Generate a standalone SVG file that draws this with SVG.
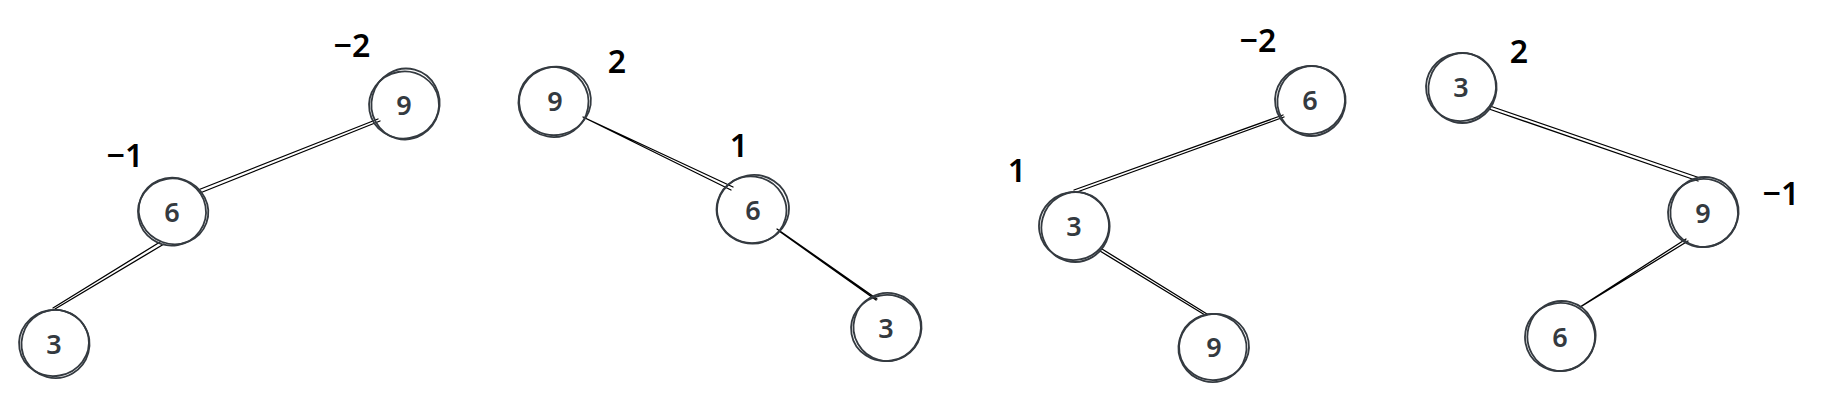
<svg xmlns="http://www.w3.org/2000/svg" width="1824" height="401" viewBox="0 0 1824 401">
<style>
.c{fill:none;stroke:#343a40;stroke-width:1.8;stroke-linecap:round}
.v{font-family:"Noto Sans","Open Sans",sans-serif;font-size:27px;font-weight:600;fill:#343a40;text-anchor:middle}
.b{font-family:"Noto Sans","Open Sans",sans-serif;font-size:32px;font-weight:600;fill:#000;text-anchor:middle}
.e{stroke:#000;stroke-width:1.3;fill:none;stroke-linecap:round}
</style>
<rect width="1824" height="401" fill="#fff"/>
<g id="edges">
<path class="e" d="M378 119 L198 190 M380 121 L200 193"/>
<path class="e" d="M160 242 L53 308 M164 244 L55 309"/>
<path class="e" d="M583 117 L733 187 M585 118 L731 190"/>
<path class="e" d="M777 229 L877 299 M779 231 L876 300"/>
<path class="e" d="M1283 115 L1074 190 M1284 117 L1077 192"/>
<path class="e" d="M1100 251 L1205 315 M1102 249 L1207 314"/>
<path class="e" d="M1490 106 L1700 178 M1489 109 L1698 181"/>
<path class="e" d="M1686 239 L1580 307 M1688 241 L1582 306"/>
</g>
<g id="p1-n9">
<ellipse class="c" cx="404" cy="105" rx="35" ry="33.5" transform="rotate(-10 404 105)"/>
<ellipse class="c" cx="405.5" cy="104" rx="34" ry="35.5" transform="rotate(15 405.5 104)"/>
<text class="v" x="404" y="115">9</text>
</g>
<g id="p1-n6">
<ellipse class="c" cx="172" cy="212" rx="34" ry="33.5" transform="rotate(-10 172 212)"/>
<ellipse class="c" cx="173.5" cy="211" rx="35" ry="33" transform="rotate(20 173.5 211)"/>
<text class="v" x="172" y="222">6</text>
</g>
<g id="p1-n3">
<ellipse class="c" cx="54" cy="343" rx="35" ry="33" transform="rotate(-10 54 343)"/>
<ellipse class="c" cx="55.5" cy="344" rx="34" ry="34" transform="rotate(15 55.5 344)"/>
<text class="v" x="54" y="354">3</text>
</g>
<g id="p2-n9">
<ellipse class="c" cx="555" cy="101" rx="36" ry="34" transform="rotate(-15 555 101)"/>
<ellipse class="c" cx="553.5" cy="102" rx="35" ry="35" transform="rotate(10 553.5 102)"/>
<text class="v" x="555" y="111">9</text>
</g>
<g id="p2-n6">
<ellipse class="c" cx="753" cy="209" rx="36" ry="34" transform="rotate(-10 753 209)"/>
<ellipse class="c" cx="751.5" cy="210" rx="35" ry="33.5" transform="rotate(15 751.5 210)"/>
<text class="v" x="753" y="220">6</text>
</g>
<g id="p2-n3">
<ellipse class="c" cx="886" cy="328" rx="35" ry="33" transform="rotate(-10 886 328)"/>
<ellipse class="c" cx="887.5" cy="327" rx="34" ry="34" transform="rotate(15 887.5 327)"/>
<text class="v" x="886" y="338">3</text>
</g>
<g id="p3-n6">
<ellipse class="c" cx="1310" cy="100" rx="35" ry="34" transform="rotate(-10 1310 100)"/>
<ellipse class="c" cx="1311.5" cy="101" rx="34" ry="35" transform="rotate(15 1311.5 101)"/>
<text class="v" x="1310" y="110">6</text>
</g>
<g id="p3-n3">
<ellipse class="c" cx="1074" cy="226" rx="35" ry="34" transform="rotate(-10 1074 226)"/>
<ellipse class="c" cx="1075.5" cy="227" rx="34" ry="35" transform="rotate(15 1075.5 227)"/>
<text class="v" x="1074" y="236">3</text>
</g>
<g id="p3-n9">
<ellipse class="c" cx="1214" cy="347" rx="35" ry="33" transform="rotate(-10 1214 347)"/>
<ellipse class="c" cx="1212.5" cy="348" rx="34" ry="34" transform="rotate(15 1212.5 348)"/>
<text class="v" x="1214" y="357">9</text>
</g>
<g id="p4-n3">
<ellipse class="c" cx="1461" cy="87" rx="35" ry="34" transform="rotate(-10 1461 87)"/>
<ellipse class="c" cx="1462.5" cy="88" rx="34" ry="35" transform="rotate(15 1462.5 88)"/>
<text class="v" x="1461" y="97">3</text>
</g>
<g id="p4-n9">
<ellipse class="c" cx="1703" cy="213" rx="35" ry="34" transform="rotate(-10 1703 213)"/>
<ellipse class="c" cx="1704.5" cy="212" rx="34" ry="35" transform="rotate(15 1704.5 212)"/>
<text class="v" x="1703" y="223">9</text>
</g>
<g id="p4-n6">
<ellipse class="c" cx="1560" cy="337" rx="35" ry="34" transform="rotate(-10 1560 337)"/>
<ellipse class="c" cx="1561.5" cy="336" rx="34" ry="35" transform="rotate(15 1561.5 336)"/>
<text class="v" x="1560" y="347">6</text>
</g>
<g id="labels">
<text class="b" x="352" y="57">−2</text>
<text class="b" x="125" y="167">−1</text>
<text class="b" x="617" y="73">2</text>
<text class="b" x="739" y="157">1</text>
<text class="b" x="1258" y="52">−2</text>
<text class="b" x="1017" y="182">1</text>
<text class="b" x="1519" y="63">2</text>
<text class="b" x="1781" y="205">−1</text>
</g>
</svg>
